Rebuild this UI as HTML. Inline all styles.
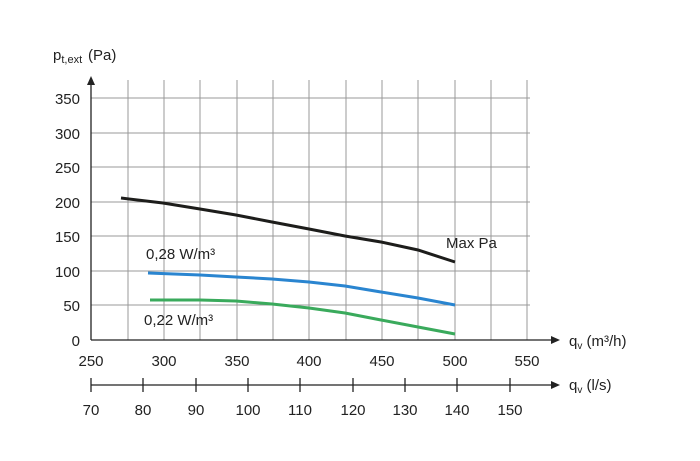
<!DOCTYPE html>
<html><head><meta charset="utf-8"><style>
body{margin:0;background:#fff;}
svg text{font-family:"Liberation Sans","DejaVu Sans",sans-serif;fill:#222;font-size:15px;}
</style></head><body>
<svg width="700" height="456" viewBox="0 0 700 456" xmlns="http://www.w3.org/2000/svg">
<g stroke="#999" stroke-width="1">
<line x1="128" y1="80" x2="128" y2="340"/><line x1="164" y1="80" x2="164" y2="340"/>
<line x1="200" y1="80" x2="200" y2="340"/><line x1="237" y1="80" x2="237" y2="340"/>
<line x1="273" y1="80" x2="273" y2="340"/><line x1="309" y1="80" x2="309" y2="340"/>
<line x1="346" y1="80" x2="346" y2="340"/><line x1="382" y1="80" x2="382" y2="340"/>
<line x1="418" y1="80" x2="418" y2="340"/><line x1="455" y1="80" x2="455" y2="340"/>
<line x1="491" y1="80" x2="491" y2="340"/><line x1="527" y1="80" x2="527" y2="340"/>
<line x1="91" y1="98" x2="530" y2="98"/><line x1="91" y1="133" x2="530" y2="133"/>
<line x1="91" y1="167" x2="530" y2="167"/><line x1="91" y1="202" x2="530" y2="202"/>
<line x1="91" y1="236" x2="530" y2="236"/><line x1="91" y1="271" x2="530" y2="271"/>
<line x1="91" y1="305" x2="530" y2="305"/>
</g>
<g stroke="#222" stroke-width="1.3" fill="none">
<line x1="91" y1="82" x2="91" y2="340"/><line x1="91" y1="340" x2="552" y2="340"/>
<line x1="91" y1="385" x2="552" y2="385"/>
<line x1="91" y1="378" x2="91" y2="392"/><line x1="143" y1="378" x2="143" y2="392"/>
<line x1="196" y1="378" x2="196" y2="392"/><line x1="248" y1="378" x2="248" y2="392"/>
<line x1="300" y1="378" x2="300" y2="392"/><line x1="353" y1="378" x2="353" y2="392"/>
<line x1="405" y1="378" x2="405" y2="392"/><line x1="457" y1="378" x2="457" y2="392"/>
<line x1="510" y1="378" x2="510" y2="392"/>
</g>
<polygon points="91,76 87,85 95,85" fill="#222"/>
<polygon points="560,340 551,336 551,344" fill="#222"/>
<polygon points="560,385 551,381 551,389" fill="#222"/>
<polyline fill="none" stroke="#1d1d1b" stroke-width="3" points="121,198 163,203 200,209 236,215 272,222 309,229 345,236 381,242 418,250 455,262"/>
<polyline fill="none" stroke="#2a85d0" stroke-width="3" points="148,273 200,275 236,277 272,279 309,282 345,286 381,292 418,298 455,305"/>
<polyline fill="none" stroke="#3aaa5c" stroke-width="3" points="150,300 200,300 236,301 272,304 309,308 345,313 381,320 418,327 455,334"/>
<g text-anchor="end">
<text x="80" y="104">350</text><text x="80" y="139">300</text><text x="80" y="173">250</text>
<text x="80" y="208">200</text><text x="80" y="242">150</text><text x="80" y="277">100</text>
<text x="80" y="311">50</text><text x="80" y="346">0</text>
</g>
<g text-anchor="middle">
<text x="91" y="366">250</text><text x="164" y="366">300</text><text x="237" y="366">350</text>
<text x="309" y="366">400</text><text x="382" y="366">450</text><text x="455" y="366">500</text>
<text x="527" y="366">550</text>
<text x="91" y="415">70</text><text x="143" y="415">80</text><text x="196" y="415">90</text>
<text x="248" y="415">100</text><text x="300" y="415">110</text><text x="353" y="415">120</text>
<text x="405" y="415">130</text><text x="457" y="415">140</text><text x="510" y="415">150</text>
</g>
<text x="53" y="60">p<tspan font-size="11" dy="3">t,ext</tspan><tspan dy="-3" x="88">(Pa)</tspan></text>
<text x="146" y="259">0,28 W/m³</text>
<text x="144" y="325">0,22 W/m³</text>
<text x="446" y="248">Max Pa</text>
<text x="569" y="346">q<tspan font-size="10" dy="3">v</tspan><tspan dy="-3"> (m³/h)</tspan></text>
<text x="569" y="390">q<tspan font-size="10" dy="3">v</tspan><tspan dy="-3"> (l/s)</tspan></text>
</svg>
</body></html>
